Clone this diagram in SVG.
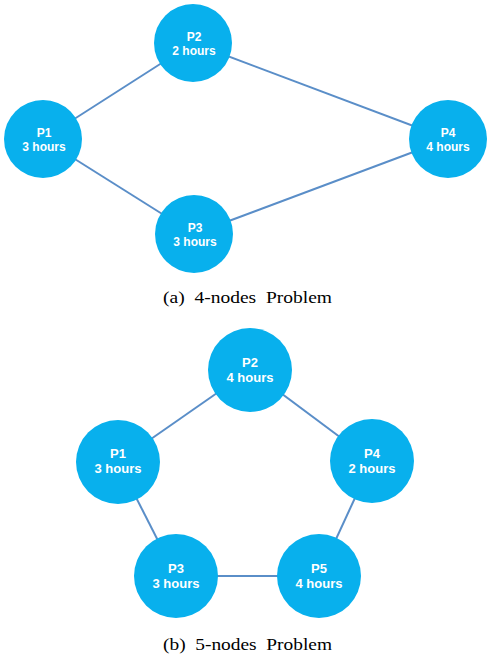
<svg xmlns="http://www.w3.org/2000/svg" width="493" height="659" viewBox="0 0 493 659">
<style>
.n{fill:#08b0ed}
.e{stroke:#5a8ec8;stroke-width:2;fill:none}
.t{font-family:"Liberation Sans",Arial,sans-serif;font-weight:bold;fill:#fff;text-anchor:middle}
.a{font-size:12px}
.b{font-size:13px}
.c{font-family:"Liberation Serif","Times New Roman",serif;font-size:16px;fill:#000;white-space:pre}
</style>
<rect width="493" height="659" fill="#fff"/>
<g id="connectors">
<line class="e" x1="43" y1="139" x2="193" y2="43"/>
<line class="e" x1="43" y1="139" x2="194" y2="234"/>
<line class="e" x1="193" y1="43" x2="448" y2="139"/>
<line class="e" x1="194" y1="234" x2="448" y2="139"/>
<line class="e" x1="118" y1="462" x2="250" y2="370"/>
<line class="e" x1="250" y1="370" x2="372" y2="461"/>
<line class="e" x1="118" y1="462" x2="176" y2="576"/>
<line class="e" x1="372" y1="461" x2="319" y2="576"/>
<line class="e" x1="176" y1="576" x2="319" y2="576"/>
</g>
<g id="a-P1"><circle class="n" cx="43" cy="139" r="39"/><text class="t a" x="44" y="137">P1</text><text class="t a" x="44" y="151">3 hours</text></g>
<g id="a-P2"><circle class="n" cx="193" cy="43" r="39"/><text class="t a" x="194" y="41">P2</text><text class="t a" x="194" y="55">2 hours</text></g>
<g id="a-P3"><circle class="n" cx="194" cy="234" r="39"/><text class="t a" x="195" y="232">P3</text><text class="t a" x="195" y="246">3 hours</text></g>
<g id="a-P4"><circle class="n" cx="448" cy="139" r="39"/><text class="t a" x="448" y="137">P4</text><text class="t a" x="448" y="151">4 hours</text></g>
<g id="b-P2"><circle class="n" cx="250" cy="370" r="42"/><text class="t b" x="250" y="367">P2</text><text class="t b" x="250" y="382">4 hours</text></g>
<g id="b-P1"><circle class="n" cx="118" cy="462" r="42"/><text class="t b" x="118" y="458">P1</text><text class="t b" x="118" y="473">3 hours</text></g>
<g id="b-P4"><circle class="n" cx="372" cy="461" r="42"/><text class="t b" x="372" y="458">P4</text><text class="t b" x="372" y="473">2 hours</text></g>
<g id="b-P3"><circle class="n" cx="176" cy="576" r="42"/><text class="t b" x="176" y="573">P3</text><text class="t b" x="176" y="588">3 hours</text></g>
<g id="b-P5"><circle class="n" cx="319" cy="576" r="42"/><text class="t b" x="319" y="573">P5</text><text class="t b" x="319" y="588">4 hours</text></g>
<text class="c" x="163" y="303" textLength="169" lengthAdjust="spacingAndGlyphs">(a)  4-nodes  Problem</text>
<text class="c" x="163" y="650" textLength="169" lengthAdjust="spacingAndGlyphs">(b)  5-nodes  Problem</text>
</svg>
